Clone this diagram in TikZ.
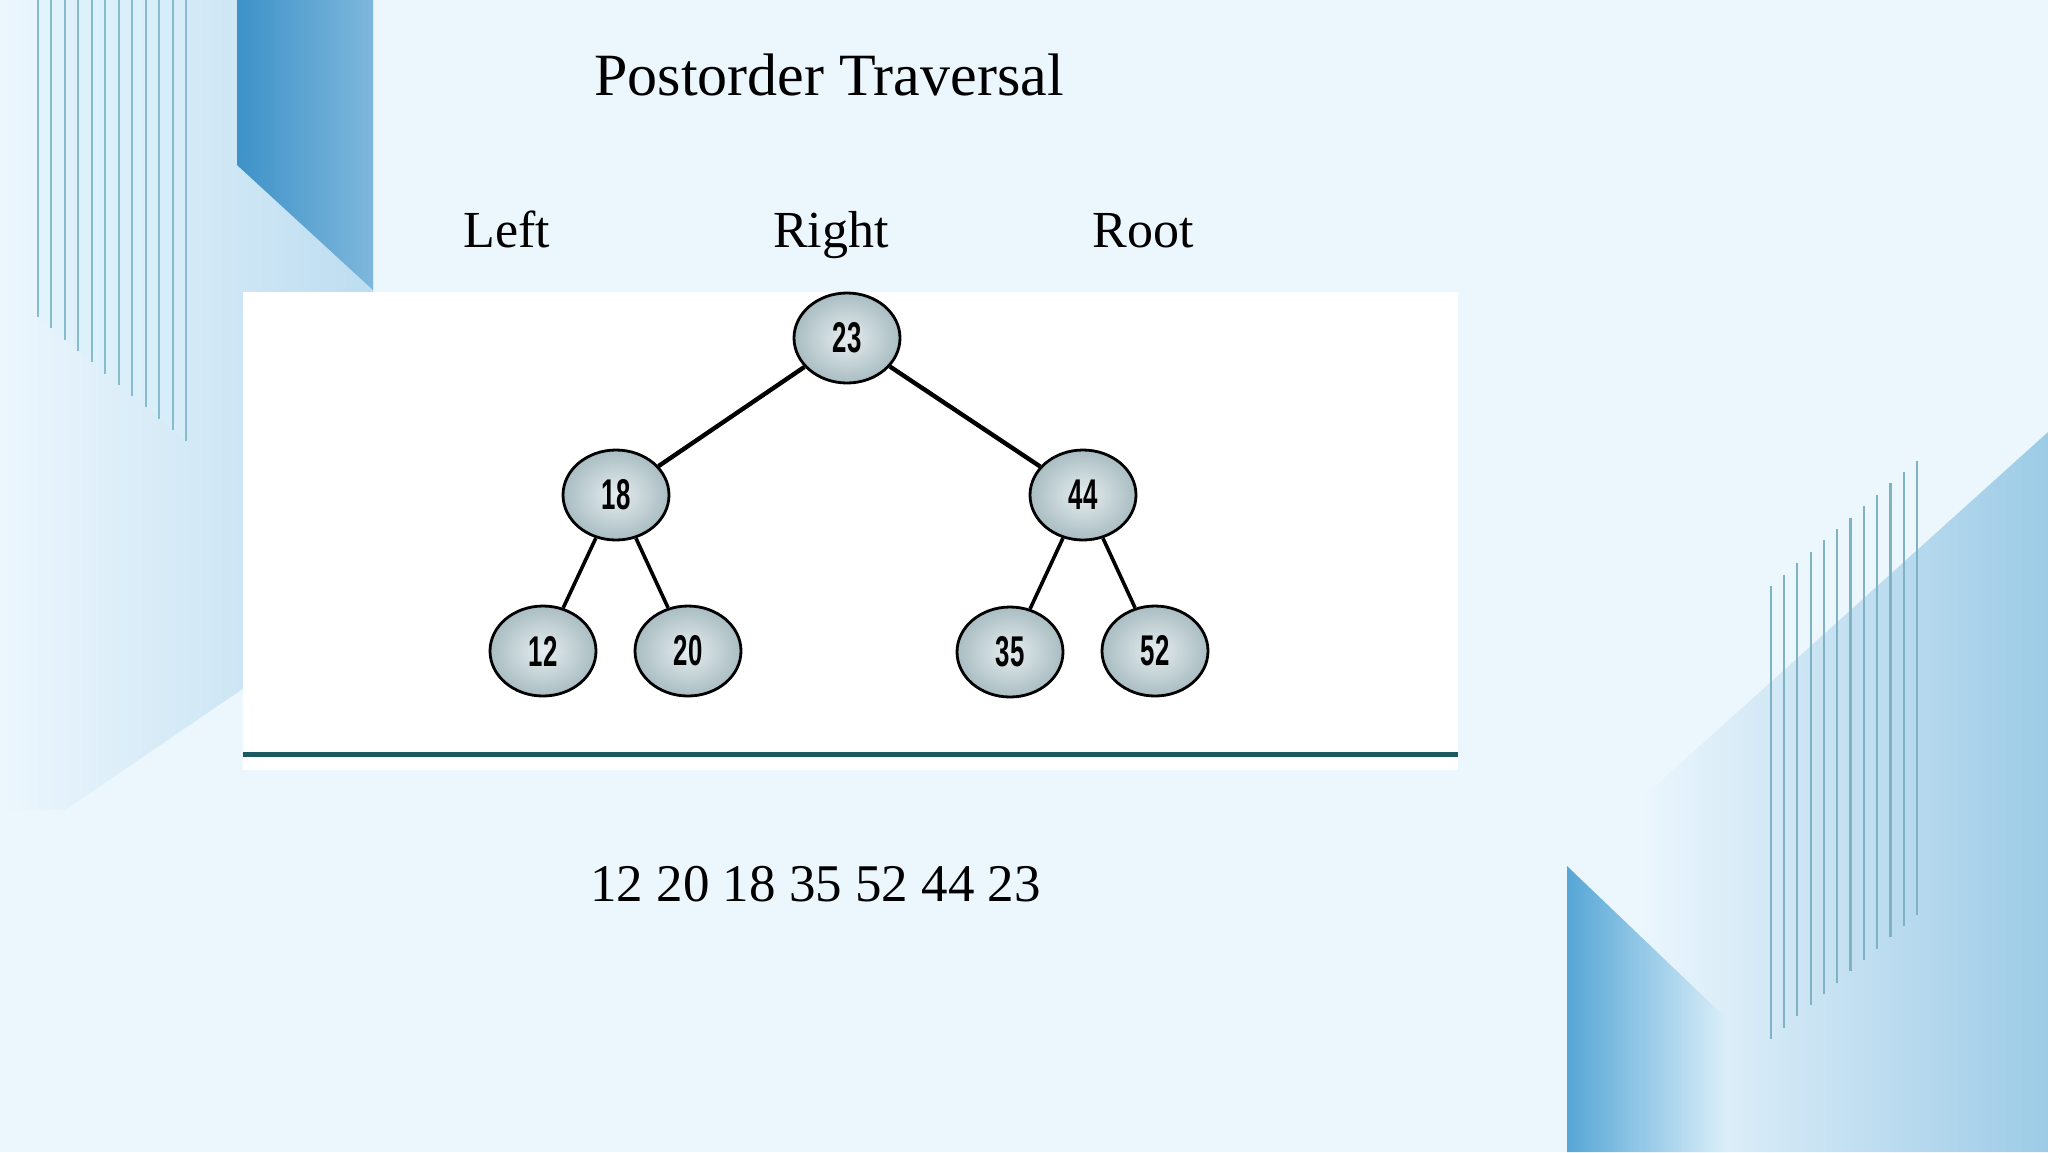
\documentclass[tikz,border=0pt]{standalone}
\usepackage{fontspec}
\usetikzlibrary{shapes.geometric}
\setmainfont{Liberation Serif}
\newfontfamily\numfont{Liberation Sans}
\definecolor{bg}{HTML}{ECF6FD}
\definecolor{lightdeco}{HTML}{BCDDF0}
\definecolor{darkA}{HTML}{3D92C8}
\definecolor{darkB}{HTML}{7EB7DC}
\definecolor{stripe}{HTML}{86BCCB}
\definecolor{stripeR}{HTML}{7FB3C3}
\definecolor{rightdeco}{HTML}{9CCBE6}
\definecolor{lowA}{HTML}{56A6D6}
\definecolor{lowB}{HTML}{DCEFF9}
\definecolor{tealline}{HTML}{1B5A60}
\definecolor{nodein}{HTML}{E6EDEF}
\definecolor{nodeout}{HTML}{A9BDC2}
\tikzset{
  treenode/.style={ellipse, draw=black, line width=1.4pt, minimum width=53pt, minimum height=45pt, inner sep=0pt, shading=radial, inner color=nodein, outer color=nodeout, font=\numfont\bfseries\fontsize{21.5pt}{24pt}\selectfont},
  upperedge/.style={draw=black, line width=2.2pt},
  loweredge/.style={draw=black, line width=1.8pt},
  serifbig/.style={anchor=base, font=\fontsize{30pt}{36pt}\selectfont},
  serifmid/.style={anchor=base, font=\fontsize{26pt}{31pt}\selectfont},
}
\newcommand{\nlab}[1]{\scalebox{0.6}[1]{#1}}
\begin{document}
\begin{tikzpicture}[x=0.5pt,y=-0.5pt]
\useasboundingbox (0,0) rectangle (2048,1152);
\fill[bg] (0,0) rectangle (2048,1152);
% left decoration
\shade[left color=bg, right color=lightdeco] (0,0) -- (373,0) -- (373,600) -- (65,810) -- (0,810) -- cycle;
\shade[left color=darkA, right color=darkB] (237,0) -- (373,0) -- (373,290) -- (237,165) -- cycle;
\fill[cyan!15, opacity=0.35] (38,0) -- (186,0) -- (186,441) -- (38,317) -- cycle;
\foreach \i in {0,...,11} {
  \draw[stripe, line width=1pt] ({38+13.45*\i},0) -- ({38+13.45*\i},{317+11.3*\i});
}
% right decoration
\shade[left color=bg, right color=rightdeco] (2048,432) -- (1640,800) -- (1640,1152) -- (2048,1152) -- cycle;
\shade[left color=lowA, right color=lowB] (1567,866) -- (1728,1020) -- (1728,1152) -- (1567,1152) -- cycle;
\foreach \i in {0,...,11} {
  \draw[stripeR, line width=1.1pt] ({1770.7+13.3*\i},{586-11.4*\i}) -- ({1770.7+13.3*\i},{1039-11.3*\i});
}
% white panel
\fill[white] (243,292) rectangle (1458,770);
\fill[tealline] (243,752) rectangle (1458,757);
% texts
\node[serifbig] (title) at (829,95) {Postorder Traversal};
\node[serifmid] (left) at (507,247) {Left};
\node[serifmid] (right) at (831,247) {Right};
\node[serifmid] (root) at (1143,247) {Root};
\node[anchor=base, font=\fontsize{26.5pt}{32pt}\selectfont] (seq) at (815.5,901) {12 20 18 35 52 44 23};
% tree
\node[treenode] (n23) at (847,338) {\nlab{23}};
\node[treenode] (n18) at (616,495) {\nlab{18}};
\node[treenode] (n44) at (1083,495) {\nlab{44}};
\node[treenode] (n12) at (543,651) {\nlab{12}};
\node[treenode] (n20) at (688,651) {\nlab{20}};
\node[treenode] (n35) at (1010,652) {\nlab{35}};
\node[treenode] (n52) at (1155,651) {\nlab{52}};
\draw[upperedge] (n23) -- (n18);
\draw[upperedge] (n23) -- (n44);
\draw[loweredge] (n18) -- (n12);
\draw[loweredge] (n18) -- (n20);
\draw[loweredge] (n44) -- (n35);
\draw[loweredge] (n44) -- (n52);
\end{tikzpicture}
\end{document}
